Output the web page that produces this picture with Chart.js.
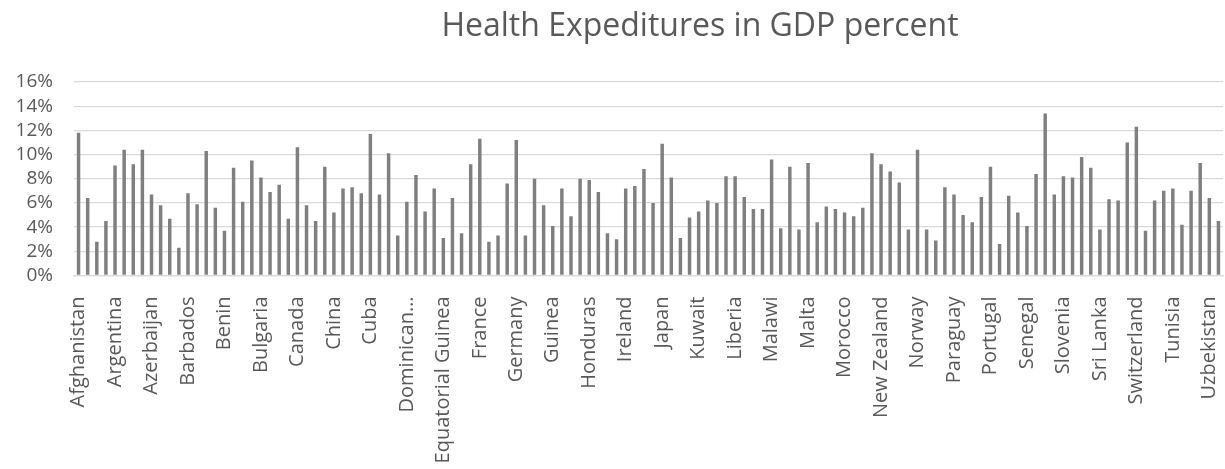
<!DOCTYPE html>
<html>
<head>
<meta charset="utf-8">
<script src="https://cdn.jsdelivr.net/npm/chart.js@4"></script>
<style>
  body { margin: 0; background: #fff; }
  #wrap { position: relative; width: 1225px; height: 469px; }
  #title {
    position: absolute; left: 175px; width: 1050px; top: 2px;
    text-align: center; font-family: "Open Sans", sans-serif; font-size: 32px;
    color: #595959; white-space: nowrap;
  }
</style>
</head>
<body>
<div id="wrap">
  <div id="title">Health Expeditures in GDP percent</div>
  <canvas id="myChart" width="1225" height="469"></canvas>
</div>
<script>
// countries in alphabetical order, every 4th one gets a label on the axis
const countries = [
  "Afghanistan", "Albania", "Algeria", "Angola", "Argentina", "Armenia", "Australia", "Austria",
  "Azerbaijan", "Bahamas", "Bahrain", "Bangladesh", "Barbados", "Belarus", "Belgium", "Belize",
  "Benin", "Bhutan", "Bolivia", "Brazil", "Bulgaria", "Burkina Faso", "Burundi", "Cambodia",
  "Canada", "Cape Verde", "Chad", "Chile", "China", "Colombia", "Costa Rica", "Croatia",
  "Cuba", "Cyprus", "Denmark", "Djibouti", "Dominican Republic", "Ecuador", "Egypt", "El Salvador",
  "Equatorial Guinea", "Estonia", "Ethiopia", "Finland", "France", "Gabon", "Gambia", "Georgia",
  "Germany", "Ghana", "Greece", "Guatemala", "Guinea", "Guinea-Bissau", "Guyana", "Haiti",
  "Honduras", "Hungary", "India", "Indonesia", "Ireland", "Israel", "Italy", "Jamaica",
  "Japan", "Jordan", "Kazakhstan", "Kenya", "Kuwait", "Kyrgyzstan", "Latvia", "Lesotho",
  "Liberia", "Lithuania", "Luxembourg", "Madagascar", "Malawi", "Malaysia", "Maldives", "Mali",
  "Malta", "Mauritania", "Mauritius", "Mexico", "Morocco", "Mozambique", "Namibia", "Netherlands",
  "New Zealand", "Nicaragua", "Niger", "Nigeria", "Norway", "Oman", "Pakistan", "Panama",
  "Paraguay", "Peru", "Philippines", "Poland", "Portugal", "Qatar", "Romania", "Rwanda",
  "Senegal", "Serbia", "Sierra Leone", "Slovakia", "Slovenia", "South Africa", "South Korea", "Spain",
  "Sri Lanka", "Suriname", "Swaziland", "Sweden", "Switzerland", "Tajikistan", "Tanzania", "Thailand",
  "Tunisia", "Turkey", "Uganda", "Ukraine", "Uzbekistan", "Vietnam"
];

// health expenditure, % of GDP
const healthPct = [
  11.8, 6.4, 2.8, 4.5, 9.1, 10.4, 9.2, 10.4,
  6.7, 5.8, 4.7, 2.3, 6.8, 5.9, 10.3, 5.6,
  3.7, 8.9, 6.1, 9.5, 8.1, 6.9, 7.5, 4.7,
  10.6, 5.8, 4.5, 9.0, 5.2, 7.2, 7.3, 6.8,
  11.7, 6.7, 10.1, 3.3, 6.1, 8.3, 5.3, 7.2,
  3.1, 6.4, 3.5, 9.2, 11.3, 2.8, 3.3, 7.6,
  11.2, 3.3, 8.0, 5.8, 4.1, 7.2, 4.9, 8.0,
  7.9, 6.9, 3.5, 3.0, 7.2, 7.4, 8.8, 6.0,
  10.9, 8.1, 3.1, 4.8, 5.3, 6.2, 6.0, 8.2,
  8.2, 6.5, 5.5, 5.5, 9.6, 3.9, 9.0, 3.8,
  9.3, 4.4, 5.7, 5.5, 5.2, 4.9, 5.6, 10.1,
  9.2, 8.6, 7.7, 3.8, 10.4, 3.8, 2.9, 7.3,
  6.7, 5.0, 4.4, 6.5, 9.0, 2.6, 6.6, 5.2,
  4.1, 8.4, 13.4, 6.7, 8.2, 8.1, 9.8, 8.9,
  3.8, 6.3, 6.2, 11.0, 12.3, 3.7, 6.2, 7.0,
  7.2, 4.2, 7.0, 9.3, 6.4, 4.5
];

const yTicks = [0, 2, 4, 6, 8, 10, 12, 14, 16];

const textColor = '#595959';
const gridColor = '#d9d9d9';

function shortName(name) {
  if (name.length <= 17) return name;
  return name.split(' ')[0] + '…';
}

const ctx = document.getElementById('myChart').getContext('2d');
new Chart(ctx, {
  type: 'bar',
  data: {
    labels: countries,
    datasets: [{
      data: healthPct,
      backgroundColor: '#7f7f7f',
      barPercentage: 0.38,
      categoryPercentage: 1
    }]
  },
  options: {
    responsive: false,
    animation: false,
    devicePixelRatio: 1,
    layout: { padding: { top: 82, right: 2, left: 0, bottom: 0 } },
    plugins: {
      legend: { display: false },
      tooltip: { enabled: false }
    },
    scales: {
      x: {
        grid: { display: false },
        border: { display: true, color: gridColor, width: 1.3 },
        afterFit: (scale) => {
          scale.height = 193.5;
          // rotated labels should not push the plot in from the sides
          scale.paddingLeft = 0;
          scale.paddingRight = 0;
        },
        ticks: {
          autoSkip: false,
          minRotation: 90,
          maxRotation: 90,
          padding: 13,
          color: textColor,
          font: { family: 'Open Sans', size: 20 },
          callback: function (value, index) {
            return index % 4 === 0 ? shortName(this.getLabelForValue(value)) : '';
          }
        }
      },
      y: {
        min: 0,
        max: 16,
        afterFit: (scale) => { scale.width = 74; },
        afterBuildTicks: (scale) => { scale.ticks = yTicks.map(v => ({ value: v })); },
        grid: { color: gridColor, lineWidth: 1.3, drawTicks: false },
        border: { display: false },
        ticks: {
          autoSkip: false,
          padding: 21,
          color: textColor,
          font: { family: 'Open Sans', size: 19 },
          callback: (v) => v + '%'
        }
      }
    }
  }
});
</script>
</body>
</html>
